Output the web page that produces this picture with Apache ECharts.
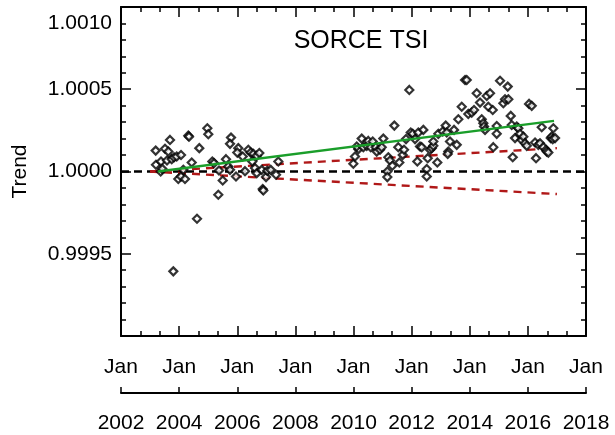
<!DOCTYPE html>
<html>
<head>
<meta charset="utf-8">
<script src="https://cdn.jsdelivr.net/npm/echarts@6/dist/echarts.min.js"></script>
<style>html,body{margin:0;padding:0;background:#fff}#c{width:615px;height:435px}</style>
</head>
<body>
<div id="c"></div>
<script>
// ---- data (decimal year, trend) ----
const obsYears = [
2003.194,2003.204,2003.376,2003.366,2003.421,2003.514,2003.628,2003.686,2003.583,2003.745,
2003.824,2003.917,2004.065,2003.972,2004.065,2004.202,2004.144,2004.316,2004.340,2004.433,
2004.694,2004.615,2003.800,2004.970,2005.004,2005.142,2005.200,2005.372,2005.348,2005.500,
2005.613,2005.692,2005.751,2005.785,2005.751,2005.957,2006.036,2006.002,2006.188,2006.267,
2006.381,2006.463,2006.518,2006.553,2006.670,2006.759,2006.611,2006.670,2006.876,2006.897,
2006.990,2006.842,2007.034,2007.151,2007.334,2007.413,
2009.994,2010.052,2010.166,2010.111,2010.283,2010.338,2010.455,2010.510,2010.593,2010.661,
2010.765,2010.799,2010.913,2010.971,2011.026,2011.198,2011.164,2011.164,2011.257,2011.336,
2011.405,2011.542,2011.577,2011.694,2011.739,2011.807,2011.921,2011.969,2012.038,2012.117,
2012.196,2012.289,2012.231,2012.403,2012.348,2012.520,2012.520,2012.554,2012.633,2012.692,
2012.747,2012.747,2012.884,2012.919,2013.070,2013.173,2013.208,2013.263,2013.242,2013.321,
2013.459,2013.552,2013.607,2013.724,2013.838,2013.896,2013.951,2014.068,2014.147,2014.240,
2014.354,2014.412,2014.467,2014.491,2014.526,2014.584,2014.639,2014.698,2014.791,2014.811,
2014.928,2014.928,2015.042,2015.156,2015.214,2015.307,2015.328,2015.410,2015.444,2015.479,
2015.558,2015.617,2015.672,2015.730,2015.789,2015.844,2015.902,2015.961,2016.040,2016.133,
2016.247,2016.281,2016.360,2016.418,2016.477,2016.532,2016.625,2016.649,2016.704,2016.787,
2016.821,2016.876,2016.855,2016.935
];
const obsTrend = [
1.000127,1.000041,1.000061,1.000000,1.000016,1.000138,1.000121,1.000192,1.000067,1.000075,
1.000087,1.000091,1.000100,0.999954,0.999970,0.999954,1.000010,1.000218,1.000212,1.000055,
1.000142,0.999713,0.999393,1.000263,1.000227,1.000061,1.000051,1.000006,0.999859,0.999945,
1.000075,1.000030,1.000010,1.000206,1.000168,0.999970,1.000142,1.000115,1.000091,1.000002,
1.000132,1.000115,1.000061,1.000107,1.000095,1.000112,1.000021,0.999990,0.999893,0.999885,
0.999966,1.000010,1.000004,1.000010,0.999980,1.000061,
1.000047,1.000091,1.000136,1.000152,1.000200,1.000148,1.000156,1.000186,1.000148,1.000182,
1.000148,1.000121,1.000132,1.000148,1.000200,1.000087,1.000000,0.999966,1.000067,1.000035,
1.000279,1.000148,1.000055,1.000101,1.000132,1.000197,1.000496,1.000237,1.000229,1.000197,
1.000061,1.000152,1.000237,1.000253,1.000148,1.000015,0.999970,1.000081,1.000132,1.000142,
1.000156,1.000182,1.000055,1.000229,1.000243,1.000279,1.000237,1.000121,1.000107,1.000182,
1.000253,1.000162,1.000318,1.000394,1.000556,1.000556,1.000350,1.000358,1.000374,1.000476,
1.000419,1.000318,1.000294,1.000273,1.000253,1.000459,1.000394,1.000476,1.000374,1.000148,
1.000277,1.000229,1.000552,1.000415,1.000439,1.000516,1.000439,1.000338,1.000283,1.000087,
1.000203,1.000273,1.000263,1.000229,1.000192,1.000212,1.000172,1.000156,1.000411,1.000399,
1.000176,1.000081,1.000162,1.000172,1.000269,1.000148,1.000132,1.000121,1.000115,1.000203,
1.000212,1.000263,1.000197,1.000203
];
const refYears = [2002, 2018];
const refTrend = [1.0, 1.0];
const fitYears = [2003.27, 2016.9];
const fitTrend = [1.0, 1.000308];
const boundYears = [2003.0, 2017.0];
const upperTrend = [1.0, 1.000142];
const lowerTrend = [1.0, 0.999863];
const yearTicks = [2002, 2004, 2006, 2008, 2010, 2012, 2014, 2016, 2018];
const monthLabel = 'Jan';
const titleText = 'SORCE TSI';
const yName = 'Trend';

const zip = (a, b) => a.map((v, i) => [v, b[i]]);
const FONT = 'Liberation Sans, Arial, Helvetica, sans-serif';
const axisLine = {show: true, lineStyle: {color: '#000', width: 2}};

const chart = echarts.init(document.getElementById('c'), null, {renderer: 'canvas'});
chart.setOption({
  animation: false,
  backgroundColor: '#fff',
  title: {
    text: titleText, left: 356, top: 24, textAlign: 'center',
    textStyle: {fontFamily: FONT, fontSize: 25, fontWeight: 'normal', color: '#000'}
  },
  grid: {left: 121, right: 29, top: 7, bottom: 99, containLabel: false},
  xAxis: [
    { type: 'value', position: 'bottom', min: 2002, max: 2018, interval: 2,
      axisLine: axisLine,
      axisTick: {show: true, inside: true, length: 10, lineStyle: {width: 1.5, color: '#000'}},
      minorTick: {show: true, splitNumber: 3, length: 5, lineStyle: {width: 1.5, color: '#000'}},
      splitLine: {show: false}, minorSplitLine: {show: false},
      axisLabel: {margin: 21, formatter: () => monthLabel, fontFamily: FONT, fontSize: 21, color: '#000'} },
    { type: 'value', position: 'bottom', offset: 57, min: 2002, max: 2018, interval: 2,
      axisLine: axisLine,
      axisTick: {show: true, inside: true, length: 6, lineStyle: {width: 1.5, color: '#000'}},
      splitLine: {show: false},
      axisLabel: {margin: 20, formatter: v => yearTicks.includes(v) ? String(v) : '',
                  fontFamily: FONT, fontSize: 21, color: '#000'} },
    { type: 'value', position: 'top', min: 2002, max: 2018, interval: 2,
      axisLine: axisLine,
      axisTick: {show: true, inside: true, length: 10, lineStyle: {width: 1.5, color: '#000'}},
      minorTick: {show: true, splitNumber: 3, length: 5, lineStyle: {width: 1.5, color: '#000'}},
      splitLine: {show: false}, axisLabel: {show: false} }
  ],
  yAxis: [
    { type: 'value', position: 'left', min: 0.999, max: 1.001, interval: 0.0005,
      name: yName, nameLocation: 'middle', nameGap: 90, nameRotate: 90,
      nameTextStyle: {fontFamily: FONT, fontSize: 21, color: '#000'},
      axisLine: axisLine,
      axisTick: {show: true, inside: true, length: 10, lineStyle: {width: 1.5, color: '#000'}},
      minorTick: {show: true, splitNumber: 5, length: 5, lineStyle: {width: 1.5, color: '#000'}},
      splitLine: {show: false},
      axisLabel: {margin: 9, showMinLabel: false, verticalAlignMaxLabel: 'top',
                  padding: [6, 0, 0, 0],
                  formatter: v => v.toFixed(4), fontFamily: FONT, fontSize: 21, color: '#000'} },
    { type: 'value', position: 'right', min: 0.999, max: 1.001, interval: 0.0005,
      axisLine: axisLine,
      axisTick: {show: true, inside: true, length: 10, lineStyle: {width: 1.5, color: '#000'}},
      minorTick: {show: true, splitNumber: 5, length: 5, lineStyle: {width: 1.5, color: '#000'}},
      splitLine: {show: false}, axisLabel: {show: false} }
  ],
  series: [
    { type: 'line', data: zip(refYears, refTrend), symbol: 'none', silent: true,
      lineStyle: {color: '#000', width: 2.4, type: [8, 5]}, z: 1 },
    { type: 'line', data: zip(boundYears, upperTrend), symbol: 'none', silent: true,
      lineStyle: {color: '#b01818', width: 2.4, type: [8, 6]}, z: 1 },
    { type: 'line', data: zip(boundYears, lowerTrend), symbol: 'none', silent: true,
      lineStyle: {color: '#b01818', width: 2.4, type: [8, 6]}, z: 1 },
    { type: 'scatter', data: zip(obsYears, obsTrend), symbol: 'diamond', symbolSize: 8,
      itemStyle: {color: '#fff', borderColor: '#000', borderWidth: 2.2}, z: 3 },
    { type: 'line', data: zip(fitYears, fitTrend), symbol: 'none', silent: true,
      lineStyle: {color: '#1a9e2a', width: 2.4}, z: 4 }
  ]
});
</script>
</body>
</html>
